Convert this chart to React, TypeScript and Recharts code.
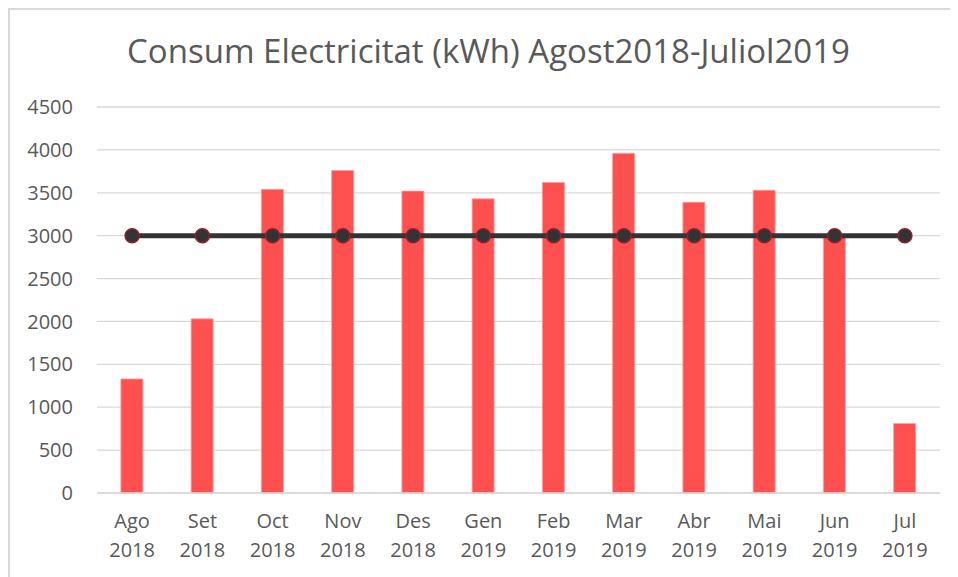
import { Bar, CartesianGrid, ComposedChart, Line, XAxis, YAxis } from "recharts";

const mesos = ["Ago", "Set", "Oct", "Nov", "Des", "Gen", "Feb", "Mar", "Abr", "Mai", "Jun", "Jul"];
const anys = ["2018", "2018", "2018", "2018", "2018", "2019", "2019", "2019", "2019", "2019", "2019", "2019"];
const consum = [1330, 2030, 3540, 3760, 3520, 3430, 3620, 3960, 3390, 3530, 2980, 810];
const objectiu = [3000, 3000, 3000, 3000, 3000, 3000, 3000, 3000, 3000, 3000, 3000, 3000];
const yTicks = [0, 500, 1000, 1500, 2000, 2500, 3000, 3500, 4000, 4500];

const data = mesos.map((m, i) => ({
  mes: m,
  any: anys[i],
  consum: consum[i],
  objectiu: objectiu[i],
}));

const FONT = "'Open Sans', sans-serif";
const TEXT = "#595959";

const MonthTick = ({ x, y, payload, index }: any) => (
  <text x={x} y={y} textAnchor="middle" fill={TEXT} fontSize={20} fontFamily={FONT}>
    <tspan x={x} dy="1em">{payload.value}</tspan>
    <tspan x={x} dy="1.45em">{anys[index]}</tspan>
  </text>
);

export default function App() {
  return (
    <div
      style={{
        position: "relative",
        width: 960,
        height: 580,
        border: "2px solid #d9d9d9",
        boxSizing: "border-box",
        background: "#fff",
      }}
    >
      <div
        style={{
          position: "absolute",
          left: 0,
          width: 957,
          top: 18,
          textAlign: "center",
          fontFamily: FONT,
          fontSize: 33,
          color: TEXT,
        }}
      >
        Consum Electricitat (kWh) Agost2018-Juliol2019
      </div>
      <ComposedChart
        width={950}
        height={567}
        data={data}
        margin={{ top: 97, right: 20, bottom: 24, left: 10 }}
        barCategoryGap="34%"
      >
        <CartesianGrid vertical={false} stroke="#d9d9d9" strokeWidth={1.3} />
        <XAxis
          dataKey="mes"
          height={60}
          tick={<MonthTick />}
          tickLine={false}
          axisLine={{ stroke: "#d9d9d9", strokeWidth: 1.3 }}
          tickSize={0}
          tickMargin={15}
          interval={0}
        />
        <YAxis
          width={77}
          domain={[0, 4500]}
          ticks={yTicks}
          axisLine={false}
          tickLine={false}
          tickSize={0}
          tickMargin={24}
          tick={{ fill: TEXT, fontSize: 20, fontFamily: FONT }}
        />
        <Bar dataKey="consum" fill="#ff5050" stroke="#ffa0a0" strokeWidth={0.8} isAnimationActive={false} />
        <Line
          dataKey="objectiu"
          stroke="#333333"
          strokeWidth={5}
          dot={{ r: 7, fill: "#333333", stroke: "#8b2232", strokeWidth: 1.5 }}
          isAnimationActive={false}
        />
      </ComposedChart>
    </div>
  );
}
